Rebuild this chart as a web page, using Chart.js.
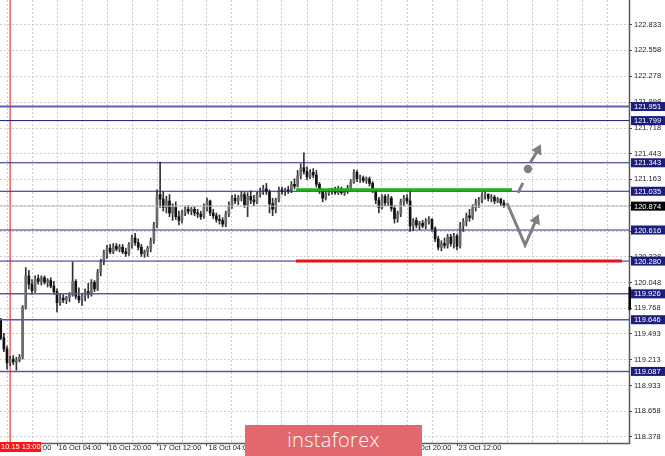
<!DOCTYPE html>
<html><head><meta charset="utf-8">
<script src="https://cdn.jsdelivr.net/npm/chart.js@4.4.0/dist/chart.umd.min.js"></script>
<style>
html,body{margin:0;padding:0;background:#fff;}
#wrap{position:relative;width:665px;height:456px;overflow:hidden;}
#logo{position:absolute;left:245px;top:425px;width:177px;height:31px;background:#e2686d;color:#fff;font:300 20px 'Open Sans',sans-serif;text-align:center;line-height:30px;letter-spacing:0.3px;}
</style></head><body>
<div id="wrap"><canvas id="c" width="665" height="456"></canvas><div id="logo">instaforex</div></div>
<script>
// ---- data (hourly bars, bar 0 = 15 Oct 12:00) ----
const firstBar = -2;
const opens = [119.64,119.45,119.33,119.18,119.22,119.19,119.21,119.24,119.78,120.12,120.03,119.96,120.09,120.06,120.10,120.05,120.07,120.01,119.95,119.83,119.88,119.86,119.89,119.92,120.06,119.90,119.86,119.90,119.95,119.92,120.05,119.98,120.16,120.27,120.37,120.42,120.38,120.44,120.41,120.43,120.38,120.36,120.46,120.53,120.48,120.43,120.36,120.38,120.42,120.50,120.67,121.00,120.95,120.86,120.93,120.80,120.86,120.76,120.72,120.80,120.84,120.82,120.84,120.80,120.79,120.76,120.87,120.93,120.80,120.77,120.73,120.72,120.68,120.79,120.88,120.96,120.93,120.97,121.00,120.89,120.98,120.94,120.92,121.00,121.04,121.06,121.03,120.90,120.84,120.94,121.05,121.03,121.05,121.04,121.11,121.09,121.20,121.29,121.25,121.19,121.24,121.21,121.11,121.04,120.96,121.01,121.03,121.05,121.02,121.06,121.02,121.04,121.07,121.13,121.24,121.17,121.18,121.15,121.17,121.12,121.05,120.94,120.86,120.98,120.91,120.96,120.85,120.74,120.79,120.92,120.96,120.93,120.66,120.72,120.67,120.69,120.66,120.71,120.73,120.63,120.52,120.43,120.47,120.45,120.54,120.47,120.55,120.44,120.66,120.71,120.77,120.75,120.86,120.91,120.94,120.99,121.00,120.96,120.97,120.93,120.95,120.91];
const highs = [119.66,119.50,119.36,119.25,119.26,119.24,119.27,119.80,120.21,120.18,120.08,120.12,120.13,120.12,120.12,120.09,120.10,120.06,119.98,119.92,119.92,119.90,119.94,120.27,120.08,119.99,119.93,119.98,120.04,120.08,120.07,120.19,120.30,120.40,120.45,120.46,120.47,120.47,120.46,120.46,120.42,120.48,120.56,120.58,120.52,120.46,120.40,120.44,120.53,120.70,121.05,121.35,121.03,120.98,121.00,120.90,120.92,120.82,120.83,120.87,120.88,120.86,120.87,120.84,120.82,120.90,120.96,120.94,120.84,120.80,120.78,120.75,120.82,120.92,120.99,121.00,120.99,121.03,121.03,121.02,121.04,120.99,121.03,121.07,121.10,121.12,121.05,120.96,120.96,121.08,121.08,121.07,121.09,121.14,121.17,121.26,121.33,121.45,121.30,121.27,121.28,121.26,121.13,121.06,121.04,121.06,121.07,121.08,121.09,121.08,121.06,121.10,121.16,121.27,121.26,121.21,121.20,121.19,121.19,121.14,121.06,120.97,121.00,121.00,121.00,120.98,120.88,120.82,120.95,120.99,121.00,121.04,120.74,120.75,120.71,120.72,120.74,120.76,120.74,120.65,120.55,120.50,120.53,120.57,120.57,120.58,120.57,120.70,120.74,120.80,120.84,120.89,120.95,120.97,121.02,121.03,121.01,121.00,120.99,120.97,120.96,120.94];
const lows = [119.43,119.30,119.11,119.15,119.16,119.10,119.19,119.22,119.76,119.98,119.92,119.94,120.03,120.02,120.03,120.00,119.99,119.92,119.73,119.80,119.83,119.82,119.84,119.90,119.87,119.83,119.80,119.85,119.88,119.90,119.95,119.96,120.12,120.24,120.31,120.36,120.36,120.39,120.38,120.36,120.33,120.34,120.42,120.45,120.40,120.33,120.32,120.33,120.38,120.47,120.64,120.86,120.82,120.80,120.76,120.72,120.73,120.67,120.69,120.77,120.79,120.78,120.77,120.75,120.73,120.74,120.82,120.77,120.74,120.70,120.68,120.65,120.65,120.76,120.85,120.90,120.89,120.93,120.86,120.76,120.90,120.88,120.90,120.97,121.00,121.00,120.80,120.77,120.80,120.92,121.00,120.99,121.01,121.02,121.06,121.08,121.17,121.22,121.16,121.17,121.18,121.08,121.01,120.92,120.94,120.99,121.00,121.00,121.00,121.00,120.99,121.01,121.04,121.12,121.14,121.13,121.13,121.12,121.09,121.02,120.90,120.80,120.84,120.88,120.88,120.82,120.69,120.70,120.76,120.88,120.90,120.60,120.61,120.64,120.62,120.64,120.63,120.68,120.60,120.49,120.40,120.39,120.42,120.42,120.44,120.42,120.40,120.42,120.60,120.66,120.71,120.73,120.82,120.86,120.91,120.95,120.93,120.92,120.90,120.91,120.88,120.86];
const closes = [119.45,119.33,119.18,119.22,119.19,119.21,119.24,119.78,120.12,120.03,119.96,120.09,120.06,120.10,120.05,120.07,120.01,119.95,119.83,119.88,119.86,119.89,119.92,120.06,119.90,119.86,119.90,119.95,119.92,120.05,119.98,120.16,120.27,120.37,120.42,120.38,120.44,120.41,120.43,120.38,120.36,120.46,120.53,120.48,120.43,120.36,120.38,120.42,120.50,120.67,121.00,120.95,120.86,120.93,120.80,120.86,120.76,120.72,120.80,120.84,120.82,120.84,120.80,120.79,120.76,120.87,120.93,120.80,120.77,120.73,120.72,120.68,120.79,120.88,120.96,120.93,120.97,121.00,120.89,120.98,120.94,120.92,121.00,121.04,121.06,121.03,120.90,120.84,120.94,121.05,121.03,121.05,121.04,121.11,121.09,121.20,121.29,121.25,121.19,121.24,121.21,121.11,121.04,120.96,121.01,121.03,121.05,121.02,121.06,121.02,121.04,121.07,121.13,121.24,121.17,121.18,121.15,121.17,121.12,121.05,120.94,120.86,120.98,120.91,120.96,120.85,120.74,120.79,120.92,120.96,120.93,120.66,120.72,120.67,120.69,120.66,120.71,120.73,120.63,120.52,120.43,120.47,120.45,120.54,120.47,120.55,120.44,120.66,120.71,120.77,120.75,120.86,120.91,120.94,120.99,121.00,120.96,120.97,120.93,120.95,120.91,120.874];

const yTickValues = [122.833,122.558,122.278,121.998,121.718,121.443,121.163,120.883,120.603,120.328,120.048,119.768,119.493,119.213,118.933,118.658,118.378];
const xTickLabels = ['15 Oct 12:00','16 Oct 04:00','16 Oct 20:00','17 Oct 12:00','18 Oct 04:00','18 Oct 20:00','19 Oct 12:00','22 Oct 04:00','22 Oct 20:00','23 Oct 12:00'];
const levelValues = [121.951,121.799,121.343,121.035,120.616,120.280,119.926,119.646,119.087];
const currentPrice = 120.874;
const greenLevel = [{x:92.5,y:121.05},{x:161.6,y:121.05}];
const redLevel = [{x:92.5,y:120.28},{x:196.8,y:120.28}];
const markerBar = 1;
const markerLabel = '10.15 13:00';
const scenarioDown = [{x:160,y:120.908},{x:165.8,y:120.454},{x:169.3,y:120.724}];
const scenarioUpDash = [{x:163.5,y:121.017},{x:165.1,y:121.125}];
const scenarioUpDot = [{x:166.7,y:121.276}];
const scenarioUp = [{x:167.4,y:121.341},{x:169.9,y:121.481}];

// ---- styles ----
const levelColors = ['#5e5eb4','#17176f','#23237a','#20208a','#2a2a90','#2a2a8c','#5656ae','#5656ae','#5656ae'];
const levelWidths = [2,1,1,1,1,1,1.5,1.5,1.5];
const xMin = -2.24, xMax = 199.04, yMin = 118.313, yMax = 123.103;

const bars = opens.map((o,i)=>firstBar+i);
const wickData = bars.map((b,i)=>({x:b, y:[lows[i], highs[i]]}));
const bodyData = bars.map((b,i)=>({x:b, y:[opens[i], closes[i]]}));
const bodyColors = bars.map((b,i)=> closes[i] >= opens[i] ? '#6a6a6a' : '#111111');

const datasets = [];
datasets.push({type:'line', data:scenarioUpDot, showLine:false, pointRadius:4.2, pointBackgroundColor:'#7f7f7f', pointBorderWidth:0, order:1});
datasets.push({type:'line', data:scenarioUp, borderColor:'#7f7f7f', borderWidth:3, pointStyle:'triangle', pointRadius:[0,6.5], pointRotation:27, pointBackgroundColor:'#7f7f7f', pointBorderWidth:0, order:1});
datasets.push({type:'line', data:scenarioUpDash, borderColor:'#7f7f7f', borderWidth:3, pointRadius:0, order:1});
datasets.push({type:'line', data:scenarioDown, borderColor:'#7f7f7f', borderWidth:3, pointStyle:'triangle', pointRadius:[0,0,6.5], pointRotation:24, pointBackgroundColor:'#7f7f7f', pointBorderWidth:0, order:1, borderJoinStyle:'miter'});
datasets.push({type:'line', data:greenLevel, borderColor:'#1fb01f', borderWidth:3, pointRadius:0, order:2});
datasets.push({type:'line', data:redLevel, borderColor:'#e8101a', borderWidth:3, pointRadius:0, order:2});
levelValues.forEach((v,i)=>{
  datasets.push({type:'line', data:[{x:xMin,y:v},{x:xMax,y:v}], borderColor:levelColors[i], borderWidth:levelWidths[i], pointRadius:0, order:3});
});
datasets.push({type:'line', data:[{x:xMin,y:currentPrice},{x:xMax,y:currentPrice}], borderColor:'#bdbdbd', borderWidth:1, pointRadius:0, order:4});
datasets.push({type:'bar', data:bodyData, backgroundColor:bodyColors, barThickness:2, grouped:false, minBarLength:1, order:10});
datasets.push({type:'bar', data:wickData, backgroundColor:'#333333', barThickness:1, grouped:false, order:11});

const tickFont = {family:'"Liberation Sans", Arial, sans-serif', size:7.5};

const overlay = {
  id:'overlay',
  beforeDatasetsDraw(chart){
    const {ctx, chartArea:a, scales:{x}} = chart;
    const px = x.getPixelForValue(markerBar);
    ctx.save(); ctx.strokeStyle='#ff5a5a'; ctx.lineWidth=1.5;
    ctx.beginPath(); ctx.moveTo(px, a.top); ctx.lineTo(px, a.bottom); ctx.stroke(); ctx.restore();
  },
  afterDraw(chart){
    const {ctx, chartArea:a, scales:{x,y}} = chart;
    ctx.save();
    ctx.strokeStyle='#5a5a5a'; ctx.lineWidth=1.5;
    ctx.beginPath(); ctx.moveTo(a.right+0.5, a.top); ctx.lineTo(a.right+0.5, a.bottom+0.5); ctx.lineTo(a.left, a.bottom+0.5); ctx.stroke();
    ctx.fillStyle='#000'; ctx.fillRect(a.right-0.5, 287, 2.5, 23);
    ctx.font = '7.5px "Liberation Sans", Arial, sans-serif';
    ctx.textBaseline='middle'; ctx.textAlign='left';
    const box = (v, bg) => {
      const py = y.getPixelForValue(v);
      ctx.fillStyle=bg; ctx.fillRect(a.right+2, py-4.5, 36, 9);
      ctx.fillStyle='#fff'; ctx.fillText(v.toFixed(3), a.right+5, py+0.5);
    };
    levelValues.forEach(v=>box(v,'#1d1d7d'));
    box(currentPrice,'#000');
    const px = x.getPixelForValue(markerBar);
    ctx.fillStyle='#ff1414'; ctx.fillRect(0, a.bottom-1, px+31, 10);
    ctx.fillStyle='#fff'; ctx.fillText(markerLabel, 1, a.bottom+4);
    ctx.restore();
  }
};

new Chart(document.getElementById('c'), {
  type:'bar',
  data:{datasets},
  plugins:[overlay],
  options:{
    responsive:false, animation:false, events:[],
    layout:{padding:0, autoPadding:false},
    plugins:{legend:{display:false}, tooltip:{enabled:false}},
    scales:{
      x:{type:'linear', position:'bottom', min:xMin, max:xMax, offset:false, bounds:'data',
        afterFit(s){ s.height = 13; s.paddingLeft = 0; s.paddingRight = 0; s.paddingTop = 0; s.paddingBottom = 0; },
        afterBuildTicks(s){ const t=[]; for(let v=0; v<=xMax; v+=8) t.push({value:v}); s.ticks = t; },
        grid:{offset:false, color:'#cccccc', lineWidth:1, tickLength:3, tickWidth:1,
          tickColor:(c)=> (c.tick && c.tick.value % 16 === 0 && c.tick.value/16 < xTickLabels.length) ? '#444' : 'rgba(0,0,0,0)', tickBorderDash:[]},
        border:{display:false, dash:[2,2]},
        ticks:{autoSkip:false, maxRotation:0, minRotation:0, align:'start', padding:-3, labelOffset:1.5, color:'#222', font:tickFont,
          callback:(v)=> (v % 16 === 0 && v/16 < xTickLabels.length) ? xTickLabels[v/16] : ''}
      },
      y:{type:'linear', position:'right', min:yMin, max:yMax, bounds:'data',
        afterFit(s){ s.width = 36; s.paddingTop = 0; s.paddingBottom = 0; s.paddingLeft = 0; s.paddingRight = 0; },
        afterBuildTicks(s){ s.ticks = yTickValues.map(v=>({value:v})); },
        grid:{color:'#cccccc', lineWidth:1, tickLength:3, tickColor:'#444', tickBorderDash:[]},
        border:{display:false, dash:[2,2]},
        ticks:{autoSkip:false, padding:2, color:'#222', font:tickFont, callback:(v)=>Number(v).toFixed(3)}
      }
    }
  }
});
</script>
</body></html>
